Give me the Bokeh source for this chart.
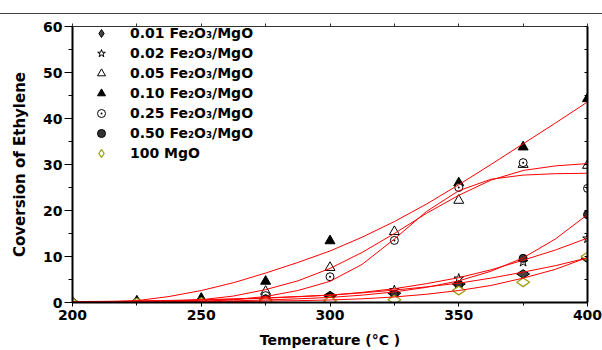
import math
from bokeh.plotting import figure
from bokeh.models import LinearAxis, FixedTicker, Legend, LegendItem, Range1d, Div
from bokeh.layouts import column
from bokeh.embed import file_html
from bokeh.resources import INLINE

# measured points
temps = [200, 225, 250, 275, 300, 325, 350, 375, 400]
conv_001 = [0.0, 0.0, 0.2, 0.5, 1.5, 2.0, 4.0, 6.2, 9.6]
conv_002 = [0.0, 0.0, 0.3, 1.0, 1.0, 2.7, 5.2, 8.8, 13.9]
conv_005 = [0.0, 0.1, 0.5, 2.4, 7.6, 15.4, 22.2, 30.0, 29.8]
temps_010 = [200, 225, 250, 275, 300, 350, 375, 400]
conv_010 = [0.0, 0.3, 0.9, 4.6, 13.4, 26.0, 33.8, 44.3]
conv_025 = [0.0, 0.0, 0.3, 1.5, 5.6, 13.5, 25.0, 30.4, 24.8]
conv_050 = [0.0, 0.0, 0.2, 0.8, 1.2, 1.8, 3.8, 9.6, 19.1]
conv_mgo = [0.0, 0.0, 0.1, 0.3, 0.4, 0.6, 2.6, 4.4, 10.0]

# fitted curves
fit_t = [200, 212.5, 225, 237.5, 250, 262.5, 275, 287.5, 300, 312.5, 325, 337.5, 350, 362.5, 375, 387.5, 400]
fit_010 = [0.0, 0.1, 0.4, 1.3, 2.6, 4.3, 6.4, 8.7, 11.2, 14.2, 17.6, 21.4, 25.6, 30.0, 34.5, 39.0, 43.6]
fit_005 = [0.05, 0.1, 0.2, 0.35, 0.6, 1.4, 2.8, 4.7, 7.4, 10.9, 15.0, 19.4, 23.3, 26.6, 28.7, 29.7, 30.2]
fit_025 = [0.0, 0.0, 0.05, 0.1, 0.25, 0.6, 1.3, 2.6, 4.6, 8.3, 13.8, 19.8, 24.3, 26.8, 27.7, 28.0, 28.1]
fit_050 = [0.0, 0.02, 0.05, 0.1, 0.2, 0.35, 0.55, 0.8, 1.1, 1.6, 2.3, 3.3, 4.7, 6.8, 9.7, 13.8, 19.1]
fit_002 = [0.1, 0.15, 0.25, 0.35, 0.5, 0.7, 0.95, 1.25, 1.6, 2.2, 3.0, 4.1, 5.4, 7.1, 9.2, 11.4, 14.0]
fit_001 = [0.2, 0.25, 0.35, 0.45, 0.6, 0.8, 1.0, 1.3, 1.6, 2.1, 2.7, 3.4, 4.2, 5.3, 6.6, 8.0, 9.7]
fit_mgo = [0.0, 0.0, 0.05, 0.1, 0.15, 0.2, 0.3, 0.4, 0.55, 0.8, 1.2, 1.8, 2.6, 3.7, 5.3, 7.2, 9.8]

labels = ["0.01 Fe\u2082O\u2083/MgO", "0.02 Fe\u2082O\u2083/MgO", "0.05 Fe\u2082O\u2083/MgO",
          "0.10 Fe\u2082O\u2083/MgO", "0.25 Fe\u2082O\u2083/MgO", "0.50 Fe\u2082O\u2083/MgO", "100 MgO"]
x_ticks = [200, 250, 300, 350, 400]
x_minor = [225, 275, 325, 375]
y_ticks = [0, 10, 20, 30, 40, 50, 60]
y_minor = [5, 15, 25, 35, 45, 55]
top_ticks = [200, 225, 250, 275, 300, 325, 350, 375, 400]
right_ticks = [0, 5, 10, 15, 20, 25, 30, 35, 40, 45, 50, 55, 60]

FONT = "DejaVu Sans"
OLIVE = "#9e9e10"

p = figure(width=602, height=336, output_backend="svg", toolbar_location=None,
           x_range=Range1d(200, 400), y_range=Range1d(0, 60),
           min_border_left=72, min_border_right=15, min_border_top=12, min_border_bottom=48)
p.outline_line_color = None
p.grid.visible = False
p.background_fill_color = "white"

xa = p.xaxis[0]
xa.ticker = FixedTicker(ticks=x_ticks, minor_ticks=x_minor)
xa.axis_label = "Temperature (\u00b0C )"
ya = p.yaxis[0]
ya.ticker = FixedTicker(ticks=y_ticks, minor_ticks=y_minor)
ya.axis_label = "Coversion of Ethylene"
for ax in (xa, ya):
    ax.axis_line_width = 2
    ax.axis_line_color = "black"
    ax.major_tick_line_color = "black"
    ax.minor_tick_line_color = "black"
    ax.major_tick_in = 0
    ax.minor_tick_in = 0
    ax.major_label_text_font = FONT
    ax.major_label_text_font_style = "bold"
    ax.major_label_text_font_size = "14px"
    ax.major_label_text_color = "black"
    ax.axis_label_text_font = FONT
    ax.axis_label_text_font_style = "bold"
    ax.axis_label_text_font_size = "14px"
    ax.axis_label_text_color = "black"
ya.axis_label_text_font_size = "15px"
xa.major_tick_out = 4
xa.minor_tick_out = 3
xa.major_label_standoff = 3
xa.axis_label_standoff = 9
ya.major_tick_out = 8
ya.minor_tick_out = 4
ya.major_label_standoff = 2
ya.axis_label_standoff = 11

top_ax = LinearAxis(ticker=FixedTicker(ticks=top_ticks),
                    major_tick_out=3, major_tick_in=0, minor_tick_out=0, minor_tick_in=0,
                    axis_line_color="#333333", axis_line_width=1, major_tick_line_color="#333333",
                    major_label_text_font_size="1px", major_label_text_color=None,
                    major_label_standoff=0)
p.add_layout(top_ax, "above")
right_ax = LinearAxis(ticker=FixedTicker(ticks=right_ticks),
                      major_tick_out=0, major_tick_in=3, minor_tick_out=0, minor_tick_in=0,
                      axis_line_color="black", axis_line_width=2, major_tick_line_color="black",
                      major_label_text_font_size="1px", major_label_text_color=None,
                      major_label_standoff=0)
p.add_layout(right_ax, "right")

S = 9
HALF_PI = math.pi / 2
r1 = p.scatter(temps, conv_001, marker="diamond", size=S + 4, angle=HALF_PI,
               line_color="black", fill_color="#444444")
r2 = p.scatter(temps, conv_002, marker="star", size=S + 1, line_color="black", fill_color="white")
r3 = p.scatter(temps, conv_005, marker="triangle", size=S + 1, line_color="black", fill_color="white")
r4 = p.scatter(temps_010, conv_010, marker="triangle", size=S + 1, line_color="black", fill_color="black")
r5 = p.scatter(temps, conv_025, marker="circle_dot", size=S - 1, line_color="black", fill_color="white")
r6 = p.scatter(temps, conv_050, marker="circle", size=S - 1, line_color="black", fill_color="#333333")
r7 = p.scatter(temps, conv_mgo, marker="diamond", size=S + 4, angle=HALF_PI,
               line_color=OLIVE, fill_color="white", line_width=1.3)

for fy in (fit_010, fit_005, fit_025, fit_050, fit_002, fit_001, fit_mgo):
    p.line(fit_t, fy, line_color="red", line_width=1)

items = [LegendItem(label=lab, renderers=[r]) for lab, r in zip(labels, [r1, r2, r3, r4, r5, r6, r7])]
legend = Legend(items=items, location=(0, 139), margin=0, padding=0,
                border_line_color=None, background_fill_alpha=0,
                glyph_width=58, glyph_height=20, label_height=14, spacing=0, label_standoff=0,
                label_text_font=FONT, label_text_font_style="bold", label_text_font_size="14px",
                label_text_color="black")
p.add_layout(legend)

top_line = Div(text="", width=602, height=14, margin=(0, 0, 0, 0),
               styles={"border-bottom": "1px solid #444444", "box-sizing": "border-box"})
layout = column(top_line, p, spacing=0, margin=(0, 0, 0, 0))

open("out.html", "w").write(file_html(layout, INLINE))
